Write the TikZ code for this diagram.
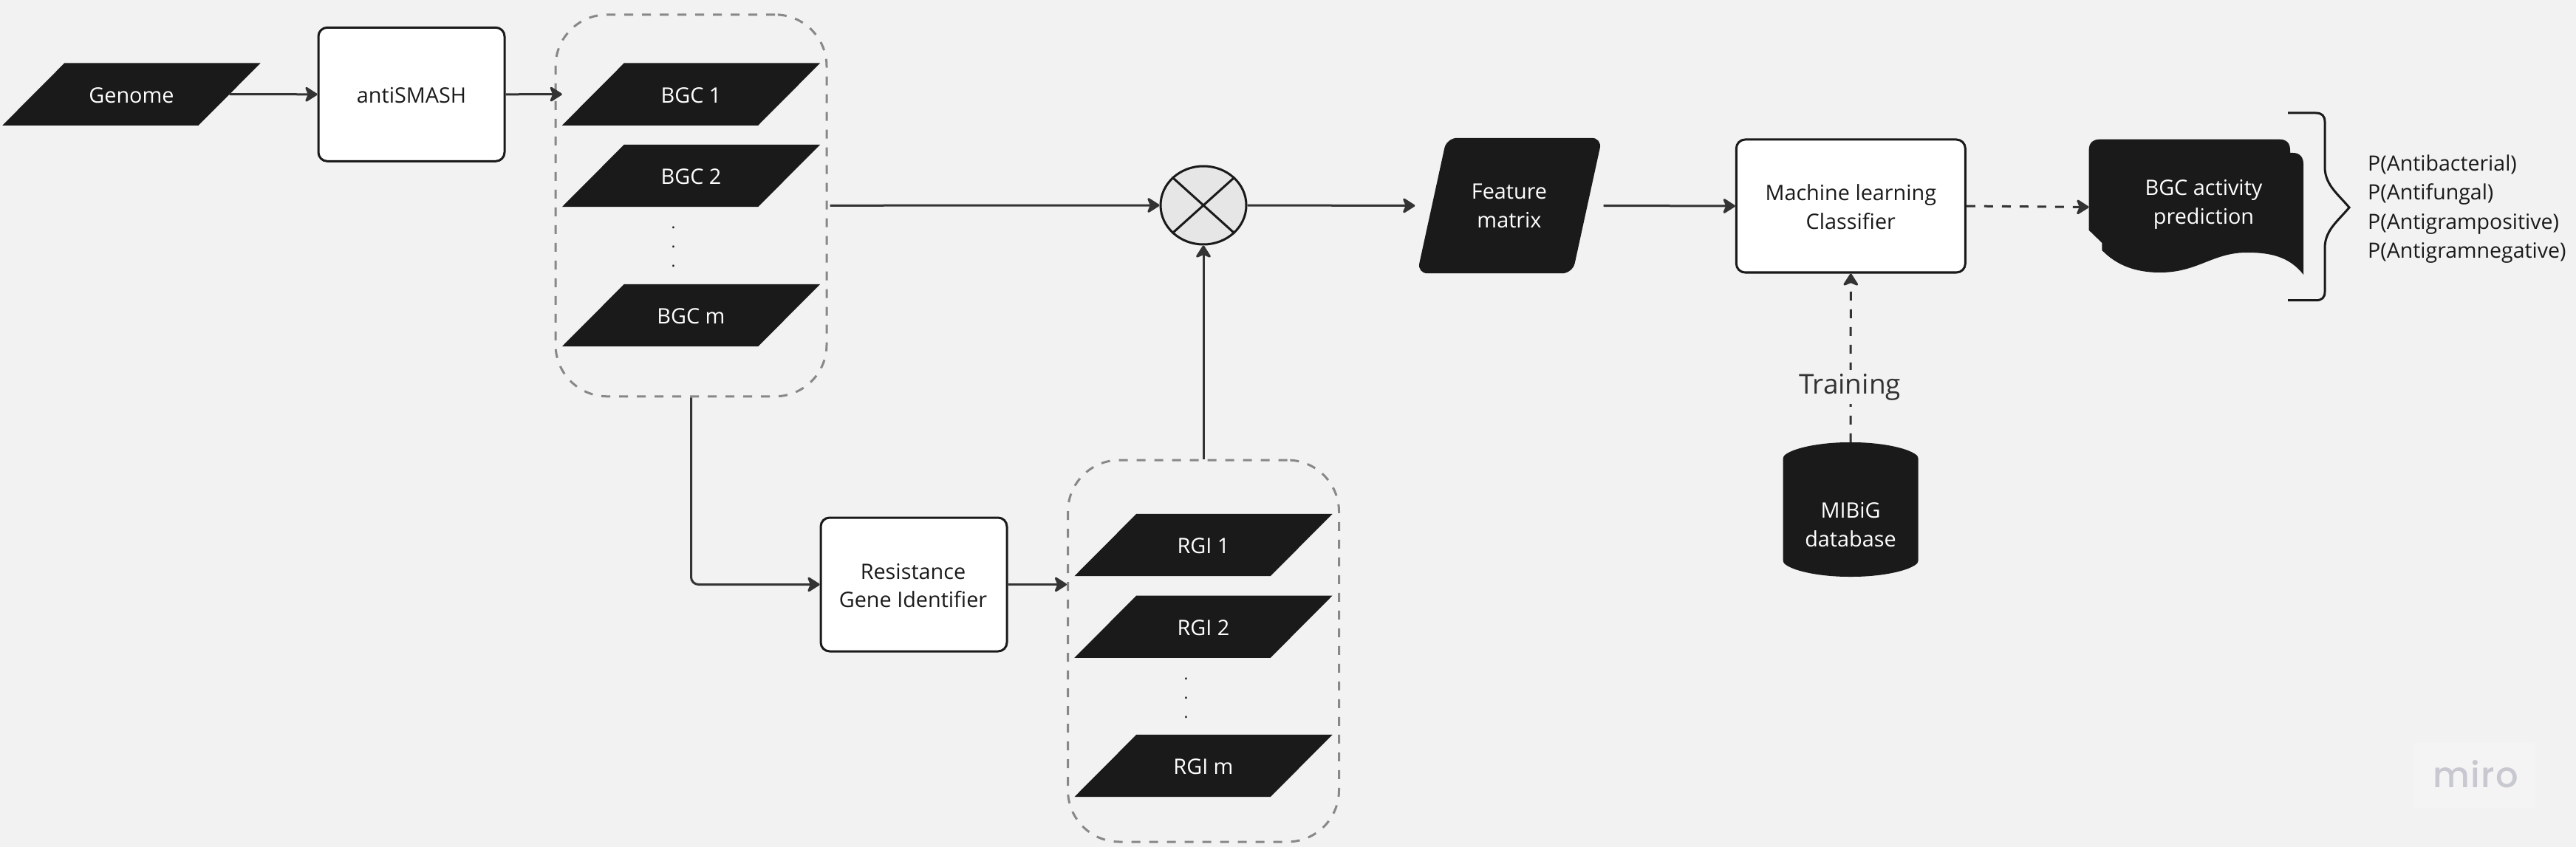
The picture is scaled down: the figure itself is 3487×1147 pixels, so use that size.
\documentclass[tikz,border=0pt]{standalone}
\usepackage{fontspec}
\setmainfont{Open Sans}
\newfontfamily\mirofont[LetterSpace=3]{Poppins Medium}
\usetikzlibrary{arrows.meta,shapes.geometric}
\definecolor{bg}{HTML}{F2F2F2}
\definecolor{ink}{HTML}{1A1A1A}
\definecolor{wire}{HTML}{333333}
\definecolor{groupline}{HTML}{888888}
\definecolor{xfill}{HTML}{E6E6E6}
\definecolor{mirotext}{HTML}{C8C8D0}
\definecolor{mirobox}{HTML}{F4F4F5}
\newdimen\sbL \newdimen\sbR \newdimen\sbB \newdimen\sbT
\newdimen\sbLa \newdimen\sbLb \newdimen\sbRa \newdimen\sbRb
\makeatletter
\gdef\slantval{42pt}
\pgfdeclareshape{slantbox}{
  \inheritsavedanchors[from=rectangle]
  \inheritanchorborder[from=rectangle]
  \inheritanchor[from=rectangle]{center}
  \inheritanchor[from=rectangle]{north}
  \inheritanchor[from=rectangle]{south}
  \inheritanchor[from=rectangle]{east}
  \inheritanchor[from=rectangle]{west}
  \backgroundpath{
    \southwest \sbL=\pgf@x \sbB=\pgf@y
    \northeast \sbR=\pgf@x \sbT=\pgf@y
    \sbLa=\sbL \advance\sbLa by -\slantval
    \sbLb=\sbL \advance\sbLb by \slantval
    \sbRa=\sbR \advance\sbRa by -\slantval
    \sbRb=\sbR \advance\sbRb by \slantval
    \pgfpathmoveto{\pgfqpoint{\sbLa}{\sbB}}
    \pgfpathlineto{\pgfqpoint{\sbLb}{\sbT}}
    \pgfpathlineto{\pgfqpoint{\sbRb}{\sbT}}
    \pgfpathlineto{\pgfqpoint{\sbRa}{\sbB}}
    \pgfpathclose
  }
}
\makeatother
\tikzset{
  slant shift/.code={\gdef\slantval{#1}},
  base font/.style={font=\fontsize{28.8}{38.8}\selectfont},
  darkpara/.style={shape=slantbox,slant shift=42pt,fill=ink,text=white,minimum width=265pt,minimum height=84pt,inner sep=0pt,base font,text height=23.6pt,text depth=0pt},
  featurebox/.style={shape=slantbox,slant shift=20pt,rounded corners=14pt,fill=ink,text=white,minimum width=210pt,minimum height=183pt,inner sep=0pt},
  whitebox/.style={draw=ink,line width=3pt,fill=white,rounded corners=12pt,text=ink,inner sep=0pt,base font},
  groupbox/.style={draw=groupline,line width=3pt,rounded corners=70pt,dash pattern=on 12pt off 12pt,inner sep=0pt,minimum width=367pt,minimum height=517pt},
  mixer/.style={shape=ellipse,draw=ink,line width=3pt,fill=xfill,minimum width=116pt,minimum height=106pt,inner sep=0pt},
  flow/.style={draw=wire,line width=3pt,-{Stealth[length=19pt,width=24pt,inset=5pt,round]}},
  dflow/.style={flow,dash pattern=on 12pt off 12pt},
  dark text/.style={base font,text=ink,inner sep=0pt,align=center},
  light text/.style={base font,text=white,inner sep=0pt,align=center},
  dottext/.style={font=\fontsize{22}{26}\selectfont,text=ink,inner sep=0pt,anchor=base}
}
\begin{document}
\begin{tikzpicture}[x=1pt,y=-1pt]
\fill[bg] (0,0) rectangle (3487,1147);
\useasboundingbox (0,0) rectangle (3487,1147);
\begin{scope}[yshift=-1pt]

% groups first, so shapes sit on top
\node[groupbox] (bgcgroup) at (935.5,277.3) {};
\node[groupbox] (rgigroup) at (1629,880.5) {};

\node[darkpara] (genome) at (178,126.6) {Genome};
\node[whitebox,minimum width=252pt,minimum height=181pt,text height=23.6pt,text depth=0pt] (antismash) at (557,126.8) {antiSMASH};

\node[darkpara] (bgc1) at (935.5,126.6) {BGC 1};
\node[darkpara] (bgc2) at (935.5,237) {BGC 2};
\node[darkpara] (bgcm) at (935.5,426) {BGC m};
\foreach \y/\n in {309/a,335/b,361/c} \node[dottext] (bdot\n) at (911.6,\y) {.};

\node[whitebox,minimum width=252pt,minimum height=181pt] (rgitool) at (1237,790.5) {};
\node[dark text] (rgitext) at (1236,792) {Resistance\\Gene Identifier};

\node[darkpara] (rgi1) at (1629,737) {RGI 1};
\node[darkpara] (rgi2) at (1629,847.7) {RGI 2};
\node[darkpara] (rgim) at (1629,1036) {RGI m};
\foreach \y/\n in {919/a,945/b,971/c} \node[dottext] (rdot\n) at (1605.5,\y) {.};

\node[mixer] (mix) at (1629,277) {};
\draw[ink,line width=3pt] (mix.42) -- (mix.222) (mix.138) -- (mix.318);

\node[featurebox] (feature) at (2043.5,277.5) {};
\node[light text] (featuretext) at (2043,278) {Feature\\matrix};
\node[whitebox,minimum width=310pt,minimum height=180pt] (ml) at (2505.3,278) {};
\node[dark text] (mltext) at (2505.3,279) {Machine learning\\Classifier};

% database cylinder
\fill[ink,rounded corners=3pt] (2413.7,617) .. controls (2430,604) and (2470,598) .. (2505,598)
  .. controls (2540,598) and (2580,604) .. (2596.6,617) -- (2596.6,761)
  .. controls (2580,774) and (2540,780) .. (2505,780)
  .. controls (2470,780) and (2430,774) .. (2413.7,761) -- cycle;
\node[minimum width=183pt,minimum height=182pt,inner sep=0pt] (db) at (2505,689) {};
\node[light text] (dbtext) at (2505,709.5) {MIBiG\\database};

% activity document
\fill[ink] (2827.6,310.7) -- (2827.6,202) .. controls (2827.6,193) and (2833,187.7) .. (2842,187.7)
  -- (3086,187.7) .. controls (3095,187.7) and (3100,193) .. (3100,202) -- (3100,206) -- (3104,206)
  .. controls (3113,206) and (3118,212) .. (3118,221) -- (3118,371)
  .. controls (3098,345) and (3070,341) .. (3041.5,341)
  .. controls (2995,341) and (2975,368) .. (2924,368)
  .. controls (2890,368) and (2865,358) .. (2845.4,338)
  -- (2845.4,328) -- cycle;
\node[minimum width=290.4pt,minimum height=183pt,inner sep=0pt] (doc) at (2972.8,279.5) {};
\node[light text] (doctext) at (2983,275.5) {BGC activity\\prediction};

% brace
\draw[ink,line width=3pt] (3097,152) -- (3135,152) .. controls (3143,152) and (3147,156) .. (3147,164)
  -- (3147,227) .. controls (3148,250) and (3165,262) .. (3180,280)
  .. controls (3165,298) and (3148,310) .. (3147,333) -- (3147,394)
  .. controls (3147,402) and (3143,405.7) .. (3135,405.7) -- (3097,405.7);

\node[dark text,align=left,anchor=west,font=\fontsize{28.5}{39.4}\selectfont] (probs) at (3205,282) {P(Antibacterial)\\P(Antifungal)\\P(Antigrampositive)\\P(Antigramnegative)};

% connectors
\draw[flow] (genome.east) -- (antismash.west);
\draw[flow] (antismash.east) -- ([xshift=-42pt]bgc1.west);
\draw[flow] ([xshift=3pt]bgcgroup.east) -- (mix.west);
\draw[flow] (mix.east) -- ([xshift=-23pt]feature.west);
\draw[flow] ([xshift=22pt]feature.east) -- (ml.west);
\draw[flow,rounded corners=10pt] (bgcgroup.south) |- (rgitool.west);
\draw[flow] (rgitool.east) -- (rgitool.east -| rgigroup.west);
\draw[flow] (rgigroup.north) -- (mix.south);
\draw[dflow] (ml.east) -- (doc.west);
\draw[dflow] (db.north) -- (ml.south);
\node[fill=bg,font=\fontsize{37}{40}\selectfont,text=wire,inner xsep=0pt,minimum height=46pt] (training) at (2504,523) {Training};

% watermark
\node[fill=mirobox,minimum width=164pt,minimum height=88pt,inner sep=0pt] (mirobg) at (3350,1049) {};
\node[text=mirotext,font=\mirofont\fontsize{48}{50}\selectfont,inner sep=0pt] (mirotxt) at (3351,1047) {miro};
\end{scope}
\end{tikzpicture}
\end{document}
